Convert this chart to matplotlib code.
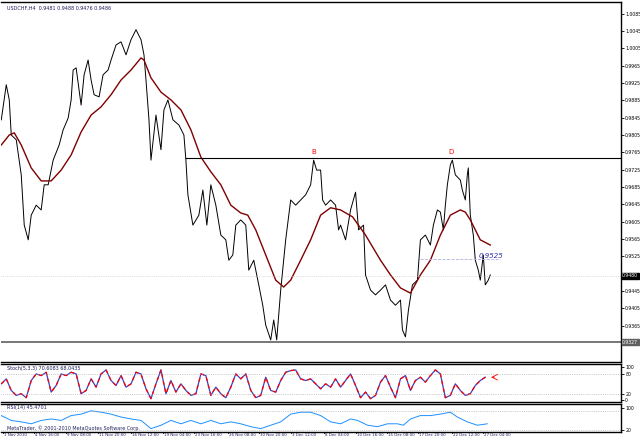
import numpy as np
import matplotlib.pyplot as plt

# close prices (x = bar pixel position)
bar_x = [0, 5, 8, 10, 15, 20, 23, 27, 30, 35, 40, 43, 47, 52, 58, 62, 67, 70, 72, 75,
         78, 80, 83, 87, 90, 93, 98, 102, 107, 110, 115, 120, 125, 130, 135, 140, 143, 145, 148, 150,
         155, 160, 163, 167, 172, 178, 183, 185, 187, 192, 198, 202, 206, 210, 215, 220, 225, 228, 232, 235,
         240, 245, 248, 253, 258, 262, 265, 270, 273, 276, 280, 285, 290, 295, 300, 305, 310, 313, 316, 320,
         322, 325, 330, 335, 338, 340, 345, 350, 355, 358, 363, 365, 370, 375, 380, 385, 390, 395, 400, 402,
         405, 408, 412, 417, 420, 425, 430, 433, 437, 440, 443, 445, 447, 450, 452, 455, 460, 462, 465, 467,
         468, 470, 473, 475, 478, 480, 483, 485, 488, 490]
close = [.9840, .9921, .9886, .9805, .9794, .9713, .9597, .9563, .9620, .9643,
         .9632, .9690, .9690, .9747, .9782, .9817, .9844, .9886, .9955, .9960,
         .9909, .9874, .9944, .9978, .9932, .9898, .9893, .9944, .9955, .9978,
         1.0013, 1.0020, .9990, 1.0025, 1.0048, 1.0025, .9990, .9932, .9840, .9747,
         .9851, .9771, .9863, .9886, .9840, .9828, .9805, .9747, .9667, .9597,
         .9620, .9678, .9597, .9690, .9643, .9574, .9563, .9516, .9528, .9597,
         .9609, .9597, .9493, .9516, .9459, .9412, .9366, .9332, .9378, .9332,
         .9447, .9563, .9655, .9643, .9655, .9667, .9690, .9747, .9724, .9724,
         .9655, .9643, .9655, .9643, .9586, .9597, .9563, .9632, .9673, .9586,
         .9597, .9482, .9447, .9436, .9447, .9459, .9424, .9412, .9424, .9355,
         .9339, .9401, .9459, .9470, .9563, .9574, .9551, .9597, .9632, .9627,
         .9586, .9643, .9690, .9736, .9747, .9713, .9701, .9678, .9655, .9713,
         .9729, .9620, .9574, .9516, .9493, .9470, .9528, .9459, .9470, .9482]

ma_x = [0, 8, 13, 20, 30, 40, 50, 60, 70, 80, 90, 100, 110, 120, 130, 140, 143, 150, 160, 170,
        180, 190, 200, 210, 220, 230, 240, 247, 255, 265, 275, 283, 290, 300, 310, 320, 330, 340, 352, 365,
        380, 390, 400, 410, 420, 430, 440, 450, 460, 465, 470, 480, 490]
ma = [.9782, .9805, .9810, .9782, .9729, .9699, .9699, .9724, .9759, .9812,
      .9851, .9870, .9898, .9932, .9955, .9983, .9978, .9937, .9904, .9886,
      .9863, .9817, .9754, .9720, .9690, .9643, .9625, .9620, .9586, .9528,
      .9470, .9454, .9470, .9516, .9563, .9620, .9637, .9632, .9616, .9574,
      .9516, .9482, .9452, .9440, .9482, .9516, .9574, .9620, .9632, .9627,
      .9609, .9563, .9551]

resistance = 0.9752
support = 0.9327
last_price = 0.9480
target = 0.9525

stoch = [50, 65, 30, 15, 20, 8, 60, 80, 75, 85, 25, 45, 80, 75, 85, 80, 20, 30, 65, 40,
         80, 92, 60, 45, 75, 40, 50, 85, 80, 35, 5, 50, 92, 20, 60, 25, 50, 30, 15, 20,
         80, 75, 15, 40, 20, 8, 40, 80, 65, 80, 30, 8, 15, 70, 30, 25, 60, 85, 90, 92,
         65, 60, 65, 50, 35, 50, 40, 65, 40, 60, 80, 45, 8, 25, 5, 15, 55, 75, 40, 8,
         65, 75, 30, 60, 70, 55, 75, 92, 80, 8, 15, 50, 30, 15, 20, 45, 60, 70]

rsi_x = [0, 10, 20, 30, 40, 50, 60, 70, 80, 90, 100, 110, 120, 130, 140, 150, 160, 170, 180, 190,
         200, 210, 220, 230, 240, 250, 260, 270, 280, 290, 300, 310, 320, 330, 340, 350, 357, 367, 377, 387,
         397, 403, 410, 420, 430, 440, 450, 457, 467, 477, 487]
rsi = [60, 50, 47, 43, 50, 53, 50, 60, 63, 70, 67, 63, 57, 53, 50, 33, 40, 50, 43, 50,
       43, 50, 43, 47, 43, 37, 33, 40, 47, 63, 67, 67, 60, 47, 43, 53, 50, 40, 37, 43,
       43, 40, 53, 60, 60, 63, 67, 57, 47, 40, 43]

price_ticks = [1.0085, 1.0045, 1.0005, 0.9965, 0.9925, 0.9885, 0.9845, 0.9805, 0.9765, 0.9725,
               0.9685, 0.9645, 0.9605, 0.9565, 0.9525, 0.9445, 0.9405, 0.9365]
date_labels = ["1 Nov 2010", "4 Nov 16:00", "9 Nov 08:00", "11 Nov 20:00", "16 Nov 12:00",
               "19 Nov 04:00", "23 Nov 16:00", "26 Nov 08:00", "30 Nov 20:00", "3 Dec 12:00",
               "8 Dec 04:00", "10 Dec 16:00", "15 Dec 08:00", "17 Dec 20:00", "22 Dec 12:00",
               "27 Dec 04:00"]
date_x = [2, 33, 65, 97, 130, 162, 193, 227, 258, 290, 323, 355, 387, 418, 452, 483]

W = 621
fig = plt.figure(figsize=(6.4, 4.45), dpi=100)
ax = fig.add_axes([0.002, 1 - 362 / 445, W / 640 - 0.002, 360 / 445])
ax_st = fig.add_axes([0.002, 1 - 402 / 445, W / 640 - 0.002, 38 / 445])
ax_rsi = fig.add_axes([0.002, 1 - 432 / 445, W / 640 - 0.002, 28 / 445])

for a in (ax, ax_st, ax_rsi):
    a.set_xlim(0, W)
    a.set_xticks([])
    for s in a.spines.values():
        s.set_linewidth(1.0)
    a.spines["left"].set_visible(False)
    a.yaxis.tick_right()
    a.tick_params(axis="y", labelsize=3.3, length=2, width=0.6, pad=1)

# main price panel
ax.set_ylim(0.9281, 1.0112)
ax.plot(bar_x, close, color="black", lw=0.7)
ax.plot(ma_x, ma, color="#800000", lw=1.0)
ax.plot([185, W], [resistance, resistance], color="black", lw=0.8)
ax.axhline(support, color="#606060", lw=1.2)
ax.axhline(last_price, color="#c0c0c0", lw=0.5, ls=":")
ax.plot([420, 500], [target - 0.0006, target - 0.0006], color="#b0b0e0", lw=0.6, ls="--")
ax.text(478, target - 0.0004, "0.9525", color="#3030b0", fontsize=5, style="italic")
ax.text(313, resistance + 0.0008, "B", color="red", fontsize=5, ha="center")
ax.text(451, resistance + 0.0008, "D", color="red", fontsize=5, ha="center")
ax.set_yticks(price_ticks)
ax.set_yticklabels([f"{v:.4f}" for v in price_ticks])
ax.text(1.002, last_price, f"{last_price:.4f}", transform=ax.get_yaxis_transform(), fontsize=3.3,
        color="white", va="center", bbox=dict(boxstyle="square,pad=0.15", fc="black", ec="black"))
ax.text(1.002, support, f"{support:.4f}", transform=ax.get_yaxis_transform(), fontsize=3.3,
        color="white", va="center", bbox=dict(boxstyle="square,pad=0.15", fc="#606060", ec="#606060"))
ax.text(0.01, 0.99, "USDCHF,H4  0.9481 0.9488 0.9476 0.9486", transform=ax.transAxes,
        fontsize=3.5, va="top", color="#202060")

# stochastic
st_x = np.arange(len(stoch)) * 5
ax_st.set_ylim(-5, 110)
ax_st.plot(st_x, stoch, color="#4040c0", lw=0.9)
ax_st.plot(st_x, stoch, color="red", lw=0.9, ls=(0, (3, 3)))
for lvl in (80, 20):
    ax_st.axhline(lvl, color="#a0a0a0", lw=0.5, ls=":")
ax_st.annotate("", xy=(st_x[-1] + 3, stoch[-1]), xytext=(st_x[-1] + 12, stoch[-1]),
               arrowprops=dict(arrowstyle="->", color="red", lw=0.6))
ax_st.set_yticks([100, 80, 20, 0])
ax_st.set_yticklabels(["100", "80", "20", "0"])
ax_st.text(0.01, 0.95, "Stoch(5,3,3) 70.6083 68.0435", transform=ax_st.transAxes,
           fontsize=3.5, va="top", color="#202060")

# rsi
ax_rsi.set_ylim(26, 84)
ax_rsi.plot(rsi_x, rsi, color="#1e90ff", lw=0.7)
for lvl in (70, 30):
    ax_rsi.axhline(lvl, color="#a0a0a0", lw=0.5, ls=":")
ax_rsi.set_yticks([76, 30])
ax_rsi.set_yticklabels(["100", "20"])
ax_rsi.text(0.01, 0.95, "RSI(14) 45.4701", transform=ax_rsi.transAxes,
            fontsize=3.5, va="top", color="#202060")
ax_rsi.text(0.01, 0.05, "MetaTrader, © 2001-2010 MetaQuotes Software Corp.", transform=ax_rsi.transAxes,
            fontsize=3.5, va="bottom", color="#202060")

# date axis
for x, lab in zip(date_x, date_labels):
    ax_rsi.plot([x, x], [26, 24], color="black", lw=0.6, clip_on=False)
    ax_rsi.text(x + 1, 23, lab, fontsize=2.9, va="top", color="#202060", clip_on=False)

fig.savefig("out.png", dpi=100)
